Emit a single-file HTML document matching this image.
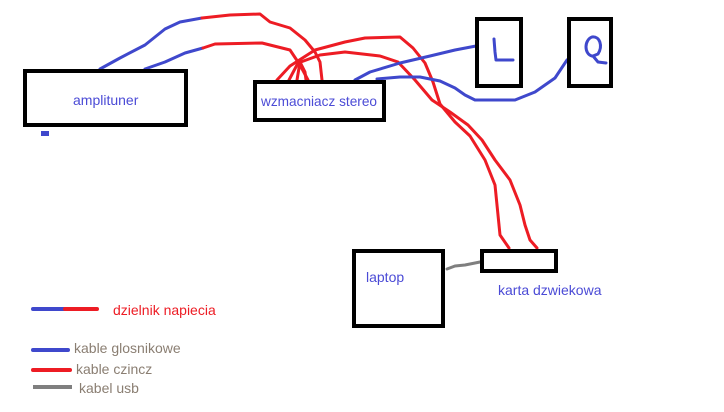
<!DOCTYPE html>
<html><head><meta charset="utf-8"><style>
html,body{margin:0;padding:0;background:#fff;}
svg{display:block;}
text{font-family:"Liberation Sans","DejaVu Sans",sans-serif;font-size:14px;}
</style></head><body>
<svg width="724" height="412" viewBox="0 0 724 412" xmlns="http://www.w3.org/2000/svg">
<g fill="none" stroke-linejoin="round" stroke-linecap="round" stroke-width="3">
<polyline stroke="#3f48cc" points="100,69 120,58 145,45 165,29 180,22 202,18"/>
<polyline stroke="#ed1c24" points="202,18 230,15 260,14 270,22 290,28 305,40 315,52 320,62 322,80"/>
<polyline stroke="#3f48cc" points="145,69 165,62 185,53 203,48"/>
<polyline stroke="#ed1c24" points="203,48 215,44 262,43 290,50 300,65 308,80"/>
<polyline stroke="#ed1c24" points="277,80 290,66 315,50 345,42 365,38 400,37 413,48 425,63 433,82 440,104 455,122 470,136 485,160 495,185 498,215 500,235 509,248"/>
<polyline stroke="#ed1c24" points="289,80 298,63 320,55 345,52 380,56 398,62 415,80 432,100 450,112 468,125 482,140 495,160 510,180 520,205 525,225 530,240 537,248"/>
<polyline stroke="#ed1c24" points="297,80 300,62 305,72 306,80"/>
<polyline stroke="#3f48cc" points="355,80 370,72 400,63 430,56 455,50 476,46"/>
<polyline stroke="#3f48cc" points="377,79 400,77 420,77 440,81 455,88 465,95 475,100 515,100 535,92 555,78 567,60"/>
<polyline stroke="#7f7f7f" points="447,269 455,266 465,265 480,262"/>
<polyline stroke="#3f48cc" points="494,39 495,52 496,60 513,60"/>
<path stroke="#3f48cc" d="M592,56 C584,54 584,40 592,37 C600,36 603,46 598,54 L593,56 L598,62 L606,63"/>
</g>
<g fill="none" stroke="#000" stroke-width="4">
<rect x="25" y="71" width="161" height="54"/>
<rect x="255" y="82" width="129" height="38"/>
<rect x="477" y="19" width="44" height="67"/>
<rect x="569" y="19" width="42" height="67"/>
<rect x="354" y="251" width="89" height="75"/>
<rect x="482" y="251" width="74" height="20"/>
</g>
<rect x="41" y="131" width="8" height="5" fill="#3f48cc"/>
<g fill="#4b4bd6">
<text x="73" y="105">amplituner</text>
<text x="261" y="106" textLength="116" lengthAdjust="spacingAndGlyphs">wzmacniacz stereo</text>
<text x="366" y="282">laptop</text>
<text x="498" y="295">karta dzwiekowa</text>
</g>
<g stroke-width="4" stroke-linecap="round">
<line x1="33" y1="309" x2="64" y2="309" stroke="#3f48cc"/>
<line x1="65" y1="309" x2="97" y2="309" stroke="#ed1c24"/>
<line x1="33" y1="350" x2="68" y2="350" stroke="#3f48cc"/>
<line x1="33" y1="370" x2="70" y2="370" stroke="#ed1c24"/>
<line x1="33" y1="387" x2="72" y2="387" stroke="#7f7f7f" stroke-linecap="butt"/>
</g>
<text x="113" y="315" fill="#ed1c24">dzielnik napiecia</text>
<g fill="#8a7e72">
<text x="74" y="353">kable glosnikowe</text>
<text x="76" y="374">kable czincz</text>
<text x="79" y="393">kabel usb</text>
</g>
</svg>
</body></html>
